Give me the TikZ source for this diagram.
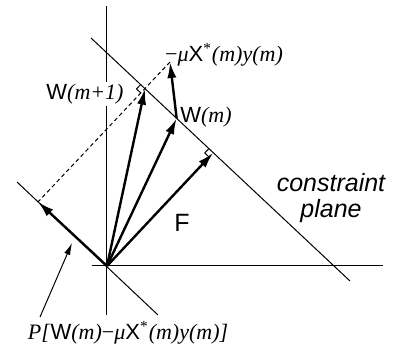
\documentclass[tikz,border=0pt]{standalone}
\usepackage{fontspec}
\setmainfont{Liberation Serif}
\setsansfont{Liberation Sans}
\usetikzlibrary{arrows.meta, calc}

\newcommand{\vW}{\textsf{W}}
\newcommand{\vX}{\textsf{X}}

\begin{document}
\begin{tikzpicture}[x=0.5pt, y=-0.5pt, font=\fontsize{11}{13}\selectfont,
  vec/.style={line width=1.2pt, -{Latex[length=8pt, width=4.6pt]}},
  axisline/.style={line width=0.5pt},
  pointer/.style={line width=0.5pt, -{Latex[length=6pt, width=3.2pt]}},
  guide/.style={line width=0.5pt, dash pattern=on 2pt off 1.5pt},
  rightangle/.style={line width=0.5pt}]
\useasboundingbox (0,0) rectangle (403,353);

% axes and lines
\coordinate (O) at (107,266);
\coordinate (ytop) at (107,6);
\coordinate (ybot) at (107,315);
\coordinate (xl) at (92,266);
\coordinate (xr) at (383,266);
\coordinate (pa) at (91,38);
\coordinate (pb) at (350,281);
\coordinate (qa) at (17,182);
\coordinate (qb) at (158,315);

% vector ends
\coordinate (Wm) at ($(pa)!(177,118)!(pb)$);
\coordinate (T) at (170,62);
\coordinate (F) at ($(pa)!(O)!(pb)$);
\coordinate (W1) at ($(pa)!(T)!(pb)$);
\coordinate (P) at ($(qa)!(T)!(qb)$);

\draw[axisline] (ytop) -- (ybot);
\draw[axisline] (xl) -- (xr);
\draw[axisline] (pa) -- (pb);
\draw[axisline] (qa) -- (qb);

% labels
\node[fill=white, inner sep=1pt] (lw1) at (85,94) {\vW\textit{(m+1)}};
\node[inner sep=1pt] (lwm) at (206,117) {\vW\textit{(m)}};
\node[inner sep=1pt] (lmu) at (224,55) {−\textit{μ}\vX\textsuperscript{*}\textit{(m)y(m)}};
\node[inner sep=1pt, font=\fontsize{12.5}{14}\selectfont\sffamily] (lf) at (182,223) {F};
\node[inner sep=1pt, align=center, font=\fontsize{12.5}{13}\selectfont\sffamily\itshape] (lplane) at (331,198) {constraint\\plane};
\node[inner sep=1pt] (lp) at (128,333) {\textit{P[}\vW\textit{(m)}−\textit{μ}\vX\textsuperscript{*}\textit{(m)y(m)]}};

% dashed construction and right angles
\draw[guide] (T) -- (P);
\coordinate (s1) at ($(W1)!3pt!(pa)$);
\coordinate (s2) at ($(W1)!3pt!(P)$);
\draw[rightangle] (s1) -- ($(s1)+(s2)-(W1)$) -- (s2);
\coordinate (r1) at ($(F)!3pt!(pa)$);
\coordinate (r2) at ($(F)!3pt!(O)$);
\draw[rightangle] (r1) -- ($(r1)+(r2)-(F)$) -- (r2);

% vectors
\draw[vec] (O) -- (W1);
\draw[vec] (O) -- (Wm);
\draw[vec] (O) -- (F);
\draw[vec] (O) -- (P);
\draw[vec] (Wm) -- (T);

\coordinate (ptail) at (40,317);
\coordinate (phead) at (72,243);
\draw[pointer] (ptail) -- (phead);
\end{tikzpicture}
\end{document}
